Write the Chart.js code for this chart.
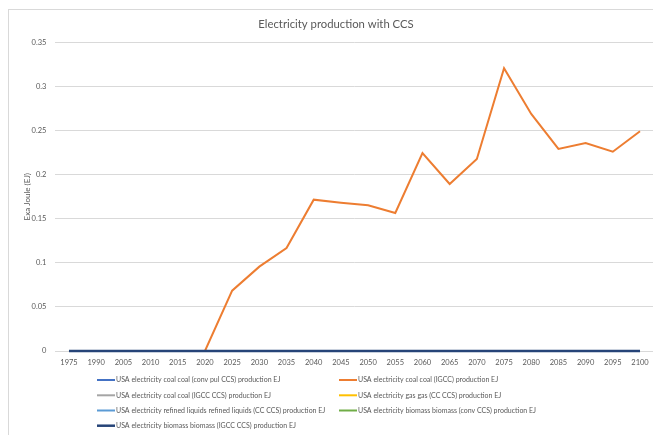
<!DOCTYPE html>
<html>
<head>
<meta charset="utf-8">
<script src="https://cdn.jsdelivr.net/npm/chart.js@4/dist/chart.umd.min.js"></script>
<style>
  html, body { margin: 0; padding: 0; background: #fff; overflow: hidden; }
  #wrap { width: 662px; height: 435px; }
  canvas { display: block; }
</style>
</head>
<body>
<div id="wrap"><canvas id="chart" width="662" height="435"></canvas></div>
<script>
// Categories (model years)
const years = ['1975', '1990', '2005', '2010', '2015', '2020', '2025', '2030', '2035', '2040', '2045',
               '2050', '2055', '2060', '2065', '2070', '2075', '2080', '2085', '2090', '2095', '2100'];

// Series values, EJ
const coalConvPulCcs   = [0, 0, 0, 0, 0, 0, 0, 0, 0, 0, 0, 0, 0, 0, 0, 0, 0, 0, 0, 0, 0, 0];
const coalIgcc         = [0, 0, 0, 0, 0, 0, 0.0684, 0.0957, 0.1169, 0.1717, 0.1683, 0.1653, 0.1566,
                          0.2246, 0.1895, 0.2178, 0.3207, 0.2689, 0.2292, 0.2360, 0.2261, 0.2493];
const coalIgccCcs      = [0, 0, 0, 0, 0, 0, 0, 0, 0, 0, 0, 0, 0, 0, 0, 0, 0, 0, 0, 0, 0, 0];
const gasCcCcs         = [0, 0, 0, 0, 0, 0, 0, 0, 0, 0, 0, 0, 0, 0, 0, 0, 0, 0, 0, 0, 0, 0];
const liquidsCcCcs     = [0, 0, 0, 0, 0, 0, 0, 0, 0, 0, 0, 0, 0, 0, 0, 0, 0, 0, 0, 0, 0, 0];
const biomassConvCcs   = [0, 0, 0, 0, 0, 0, 0, 0, 0, 0, 0, 0, 0, 0, 0, 0, 0, 0, 0, 0, 0, 0];
const biomassIgccCcs   = [0, 0, 0, 0, 0, 0, 0, 0, 0, 0, 0, 0, 0, 0, 0, 0, 0, 0, 0, 0, 0, 0];

const seriesLabels = [
  'USA electricity coal coal (conv pul CCS) production EJ',
  'USA electricity coal coal (IGCC) production EJ',
  'USA electricity coal coal (IGCC CCS) production EJ',
  'USA electricity gas gas (CC CCS) production EJ',
  'USA electricity refined liquids refined liquids (CC CCS) production EJ',
  'USA electricity biomass biomass (conv CCS) production EJ',
  'USA electricity biomass biomass (IGCC CCS) production EJ'
];
const seriesValues = [coalConvPulCcs, coalIgcc, coalIgccCcs, gasCcCcs, liquidsCcCcs, biomassConvCcs, biomassIgccCcs];
const seriesColors = ['#4472C4', '#ED7D31', '#A5A5A5', '#FFC000', '#5B9BD5', '#70AD47', '#264478'];
const seriesWidths = [2, 2, 2, 2, 2, 2, 2.5];

// Y axis ticks
const yMin = 0, yMax = 0.35, yStep = 0.05;

const chartTitle = 'Electricity production with CCS';
const yTitle = 'Exa Joule (EJ)';

const FONT = 'Lato, "Open Sans", sans-serif';
const TEXT = '#595959';

// Frame, title, rotated y title and a two-column legend
const decorations = {
  id: 'decorations',
  beforeDraw(chart) {
    const ctx = chart.ctx;
    ctx.save();
    ctx.fillStyle = '#ffffff';
    ctx.fillRect(0, 0, chart.width, chart.height);
    ctx.strokeStyle = '#d9d9d9';
    ctx.lineWidth = 1;
    ctx.strokeRect(8.5, 9.5, 652, 460);
    ctx.restore();
  },
  afterDraw(chart) {
    const ctx = chart.ctx;
    const area = chart.chartArea;
    ctx.save();
    ctx.fillStyle = TEXT;

    ctx.font = '11.3px ' + FONT;
    ctx.textAlign = 'center';
    ctx.textBaseline = 'alphabetic';
    ctx.fillText(chartTitle, 336, 28);

    ctx.save();
    ctx.translate(27, (area.top + area.bottom) / 2);
    ctx.rotate(-Math.PI / 2);
    ctx.font = '8px ' + FONT;
    ctx.textBaseline = 'middle';
    ctx.fillText(yTitle, 0, 0);
    ctx.restore();

    const cols = [97, 339];
    const rows = [380, 395.3, 410.5, 425.7];
    ctx.font = '7px ' + FONT;
    ctx.textAlign = 'left';
    ctx.textBaseline = 'middle';
    chart.data.datasets.forEach((ds, i) => {
      const x = cols[i % 2];
      const y = rows[Math.floor(i / 2)];
      ctx.strokeStyle = ds.borderColor;
      ctx.lineWidth = ds.borderWidth;
      ctx.beginPath();
      ctx.moveTo(x, y);
      ctx.lineTo(x + 18, y);
      ctx.stroke();
      ctx.fillStyle = TEXT;
      ctx.fillText(ds.label, x + 19, y);
    });
    ctx.restore();
  }
};

// Lower order is painted last, so the final series ends up on top
const datasets = seriesValues.map((values, i) => ({
  label: seriesLabels[i],
  data: values,
  borderColor: seriesColors[i],
  backgroundColor: seriesColors[i],
  borderWidth: seriesWidths[i],
  pointRadius: 0,
  pointHoverRadius: 0,
  tension: 0,
  fill: false,
  clip: false,
  order: seriesValues.length - 1 - i
}));

new Chart(document.getElementById('chart'), {
  type: 'line',
  data: { labels: years, datasets },
  options: {
    responsive: false,
    animation: false,
    devicePixelRatio: 1,
    layout: { padding: { top: 42.5, left: 0, right: 8.4, bottom: 70 } },
    plugins: {
      legend: { display: false },
      title: { display: false },
      tooltip: { enabled: false }
    },
    scales: {
      x: {
        offset: true,
        grid: { display: false, drawTicks: false },
        border: { display: false },
        ticks: {
          color: TEXT,
          font: { family: FONT, size: 7.5 },
          padding: 7,
          maxRotation: 0,
          autoSkip: false
        },
        afterFit(scale) { scale.height = 14; }
      },
      y: {
        min: yMin,
        max: yMax,
        grid: { color: '#d9d9d9', lineWidth: 1, drawTicks: false },
        border: { display: false },
        ticks: {
          stepSize: yStep,
          color: TEXT,
          font: { family: FONT, size: 7.5 },
          padding: 9,
          callback: v => String(+v.toFixed(2))
        },
        afterFit(scale) { scale.width = 55.4; }
      }
    }
  },
  plugins: [decorations]
});
</script>
</body>
</html>
